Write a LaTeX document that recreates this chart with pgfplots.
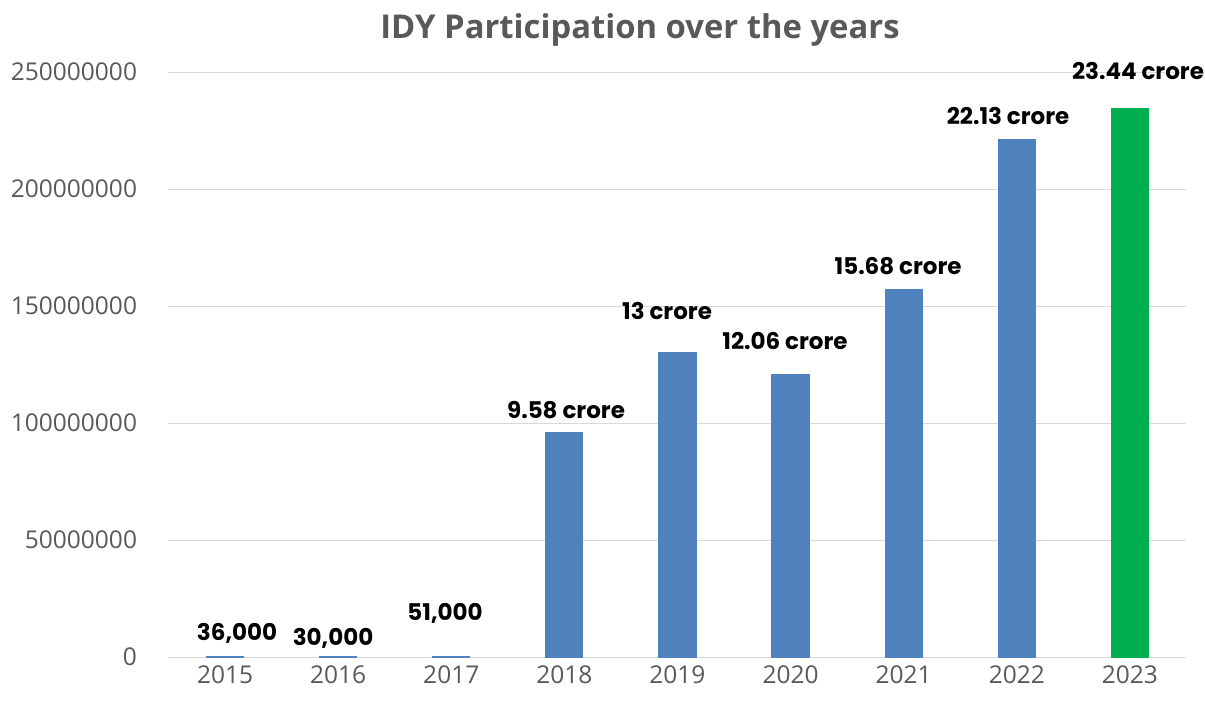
\documentclass[border=0pt]{standalone}
\usepackage{fontspec}
\setmainfont{Open Sans}
\newfontfamily\titlefont{Open Sans}
\newfontfamily\labelfont{Poppins}
\usepackage{pgfplots}
\pgfplotsset{compat=1.18}
\definecolor{barblue}{RGB}{79,129,189}
\definecolor{bargreen}{RGB}{0,176,80}
\definecolor{txtgray}{RGB}{89,89,89}
\definecolor{gridgray}{RGB}{217,217,217}
\begin{document}
\begin{tikzpicture}
\path[use as bounding box] (-168.5bp,-48bp) rectangle (1036.5bp,657bp);
\begin{axis}[
  at={(0,0)}, anchor=south west,
  scale only axis,
  width=1018bp, height=585bp,
  xmin=-0.5, xmax=8.5,
  ymin=0, ymax=250000000,
  ybar, bar width=37bp, bar shift=0pt,
  axis line style={draw=none},
  axis x line*=bottom,
  axis y line*=left,
  xtick={0,1,2,3,4,5,6,7,8},
  xticklabels={2015,2016,2017,2018,2019,2020,2021,2022,2023},
  ytick={0,50000000,100000000,150000000,200000000,250000000},
  yticklabels={0,50000000,100000000,150000000,200000000,250000000},
  scaled y ticks=false,
  major tick length=0pt,
  ymajorgrids,
  grid style={draw=gridgray, line width=0.9bp},
  tick label style={font=\fontsize{24.5bp}{28bp}\selectfont, text=txtgray},
  yticklabel style={xshift=-28bp},
  xticklabel style={yshift=-5bp},
  clip=false,
]
\addplot[fill=barblue, draw=barblue, line width=1.2bp] coordinates {
  (0,36000) (1,30000) (2,51000) (3,95800000) (4,130000000)
  (5,120600000) (6,156800000) (7,221300000)
};
\addplot[fill=bargreen, draw=bargreen] coordinates {(8,234400000)};
\begin{scope}[every node/.style={font=\labelfont\bfseries\fontsize{23bp}{27bp}\selectfont, text=black, anchor=center}]
\node at (axis cs:0.106,10300000) {36,000};
\node at (axis cs:0.955,8100000) {30,000};
\node at (axis cs:1.945,18800000) {51,000};
\node at (axis cs:3.015,105600000) {9.58 crore};
\node at (axis cs:3.908,147900000) {13 crore};
\node at (axis cs:4.951,135000000) {12.06 crore};
\node at (axis cs:5.951,167100000) {15.68 crore};
\node at (axis cs:6.923,231200000) {22.13 crore};
\node at (axis cs:8.072,250400000) {23.44 crore};
\end{scope}
\end{axis}
\node[font=\titlefont\bfseries\fontsize{32.8bp}{38bp}\selectfont, text=txtgray] at (471.5bp,627bp) {IDY Participation over the years};
\end{tikzpicture}
\end{document}
